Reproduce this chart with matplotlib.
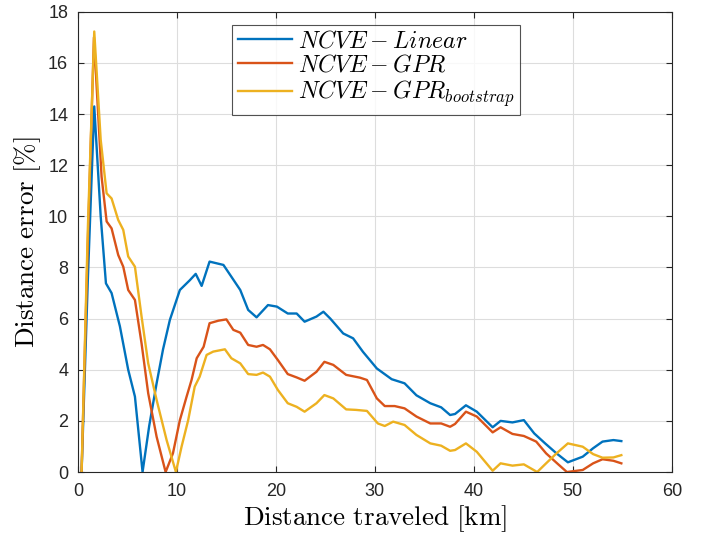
import matplotlib
matplotlib.use("Agg")
import matplotlib.pyplot as plt

# NCVE - Linear
lin_x = [0.37, 1.0, 1.65, 2.3, 2.83, 3.4, 4.24, 5.08, 5.76, 6.53, 7.2, 7.95, 8.6, 9.29, 10.3, 11.3, 11.9, 12.5,
         13.3, 14.7, 15.5, 16.4, 17.2, 18.05, 19.2, 20.1, 21.2, 22.1, 22.9, 24.1, 24.8, 25.5, 26.8, 27.8,
         28.8, 30.2, 31.7, 33.0, 34.2, 35.6, 36.7, 37.6, 38.1, 39.2, 40.3, 41.9, 42.7, 43.9, 45.05, 46.1,
         47.2, 48.35, 49.5, 51.0, 52.05, 53.0, 54.1, 54.9]
lin_y = [0.0, 7.5, 14.3, 10.0, 7.38, 7.0, 5.7, 4.0, 2.95, 0.0, 1.8, 3.47, 4.8, 5.95, 7.12, 7.5, 7.75, 7.28,
         8.23, 8.1, 7.64, 7.12, 6.34, 6.05, 6.53, 6.47, 6.2, 6.2, 5.88, 6.08, 6.27, 6.0, 5.42, 5.23,
         4.7, 4.05, 3.63, 3.47, 3.0, 2.69, 2.53, 2.23, 2.27, 2.61, 2.36, 1.75, 2.0, 1.94, 2.03, 1.51,
         1.12, 0.73, 0.38, 0.6, 0.93, 1.19, 1.25, 1.21]

# NCVE - GPR
gpr_x = [0.37, 1.0, 1.62, 2.39, 2.9, 3.4, 4.07, 4.58, 5.08, 5.76, 6.43, 7.1, 7.95, 8.86, 9.6, 10.3, 10.98,
         11.48, 12.0, 12.7, 13.3, 14.2, 15.0, 15.7, 16.4, 17.2, 18.05, 18.7, 19.4, 20.2, 21.2, 22.1, 22.9,
         24.1, 24.9, 25.8, 27.1, 28.5, 29.2, 30.2, 31.0, 32.0, 33.0, 34.2, 35.6, 36.7, 37.6, 38.1, 39.2,
         40.3, 41.9, 42.7, 43.9, 45.05, 46.3, 47.3, 48.5, 49.4, 51.0, 52.05, 53.0, 54.1, 54.9]
gpr_y = [0.0, 9.0, 17.0, 11.55, 9.8, 9.53, 8.49, 8.03, 7.12, 6.73, 5.03, 3.08, 1.38, 0.0, 0.73, 2.03, 2.95,
         3.6, 4.45, 4.9, 5.82, 5.92, 5.97, 5.56, 5.45, 4.97, 4.9, 4.97, 4.8, 4.38, 3.83, 3.7, 3.57,
         3.92, 4.31, 4.19, 3.8, 3.69, 3.6, 2.88, 2.58, 2.58, 2.49, 2.17, 1.9, 1.9, 1.77, 1.88, 2.36,
         2.17, 1.55, 1.75, 1.49, 1.41, 1.19, 0.73, 0.31, 0.0, 0.08, 0.34, 0.5, 0.44, 0.34]

# NCVE - GPR bootstrap
boot_x = [0.37, 1.0, 1.65, 2.3, 2.9, 3.4, 4.07, 4.58, 5.08, 5.76, 6.43, 7.1, 7.95, 8.96, 9.9, 10.47, 11.14,
          11.8, 12.3, 13.0, 13.67, 14.85, 15.5, 16.4, 17.2, 18.05, 18.7, 19.4, 20.2, 21.2, 22.1, 22.9,
          24.1, 24.9, 25.8, 27.1, 28.1, 29.2, 30.3, 31.0, 31.85, 33.0, 34.2, 35.6, 36.7, 37.6, 38.1, 39.2,
          40.3, 41.9, 42.7, 43.9, 45.05, 46.4, 47.3, 48.35, 49.5, 51.0, 52.05, 53.0, 54.1, 54.9]
boot_y = [0.0, 9.5, 17.23, 13.0, 10.9, 10.7, 9.86, 9.47, 8.43, 8.03, 6.08, 4.25, 2.82, 1.25, 0.0, 0.99, 2.03,
          3.34, 3.73, 4.58, 4.71, 4.8, 4.45, 4.25, 3.83, 3.8, 3.89, 3.73, 3.21, 2.69, 2.55, 2.36,
          2.69, 3.01, 2.88, 2.45, 2.43, 2.39, 1.9, 1.8, 1.97, 1.84, 1.45, 1.12, 1.03, 0.83, 0.86, 1.12,
          0.79, 0.05, 0.34, 0.25, 0.3, 0.0, 0.34, 0.73, 1.12, 0.99, 0.7, 0.56, 0.57, 0.66]

labels = [r"$NCVE-Linear$", r"$NCVE-GPR$", r"$NCVE-GPR_{bootstrap}$"]
colors = ["#0072BD", "#D95319", "#EDB120"]

plt.rcParams["mathtext.fontset"] = "cm"
plt.rcParams["font.family"] = ["Liberation Sans", "DejaVu Sans"]

fig = plt.figure(figsize=(7.02, 5.37), dpi=100)
ax = fig.add_axes([0.111, 0.121, 0.846, 0.857])

for xs, ys, lab, c in zip([lin_x, gpr_x, boot_x], [lin_y, gpr_y, boot_y], labels, colors):
    ax.plot(xs, ys, color=c, linewidth=1.7, label=lab)

ax.set_xlim(0, 60)
ax.set_ylim(0, 18)
ax.set_xticks(range(0, 61, 10))
ax.set_yticks(range(0, 19, 2))
ax.grid(True, color="#dddddd", linewidth=0.8)
ax.set_axisbelow(True)
ax.tick_params(direction="in", top=True, right=True, labelsize=13, colors="#262626", length=4)
ax.tick_params(axis="x", pad=8)
ax.tick_params(axis="y", pad=7)
for s in ax.spines.values():
    s.set_color("#262626")
    s.set_linewidth(0.8)

ax.set_xlabel(r"$\mathrm{Distance\ traveled\ [km]}$", fontsize=19.5, labelpad=2)
ax.set_ylabel(r"$\mathrm{Distance\ error\ [\%]}$", fontsize=19.5, labelpad=4)

leg = ax.legend(loc="upper center", bbox_to_anchor=(0.502, 0.972), fontsize=17.2, frameon=True,
                fancybox=False, edgecolor="#262626", handlelength=2.25, borderpad=0.25,
                labelspacing=0.08, handletextpad=0.25, borderaxespad=0)
leg.get_frame().set_linewidth(0.8)

fig.savefig("out.png", dpi=100)
